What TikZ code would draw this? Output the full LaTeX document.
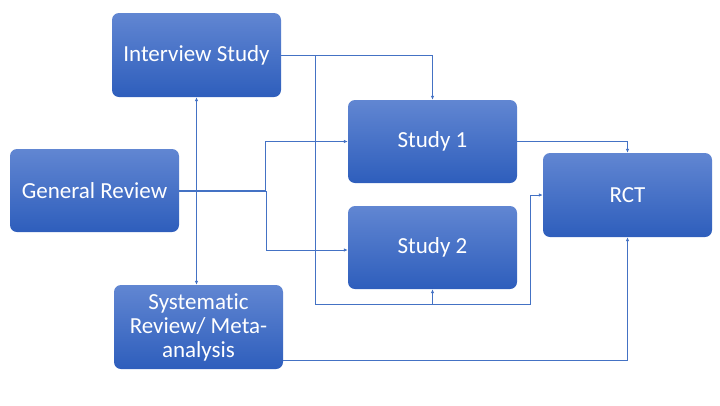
\documentclass[tikz,border=0pt]{standalone}
\usepackage{fontspec}
\setmainfont{Carlito}[Ligatures={NoCommon}]
\usetikzlibrary{arrows.meta,calc}
\definecolor{boxtop}{RGB}{97,134,210}
\definecolor{boxbot}{RGB}{46,94,188}
\definecolor{linkc}{RGB}{68,114,196}
\tikzset{
  box/.style={rectangle, rounded corners=7pt, shade, top color=boxtop, bottom color=boxbot,
    minimum width=169pt, minimum height=84pt, inner sep=0pt, text=white, align=center,
    font=\fontsize{23}{24}\selectfont},
  conn/.style={draw=linkc, line width=0.9pt, -{Latex[length=4pt,width=3.5pt]}}
}
\begin{document}
\begin{tikzpicture}[x=1pt,y=-1pt]
\useasboundingbox (0,0) rectangle (720,405);
\node[box] (interview) at (196.5,55) {Interview Study};
\node[box, minimum height=83pt] (study1) at (432.5,141.5) {Study 1};
\node[box, minimum height=83pt] (study2) at (432.5,247.5) {Study 2};
\node[box] (rct) at (627.5,195) {RCT};
\node[box, minimum height=83pt] (gr) at (94.5,190.5) {General Review};
\node[box] (sys) at (198.5,327) {Systematic\\Review/ Meta-\\analysis};
\coordinate (bend1) at (315,304);
\coordinate (bend2) at (530.7,304);
\coordinate (sysout) at ($(sys.south east)+(0,-8.5)$);
% from General Review
\draw[conn] (gr.east) -| (interview.south);
\draw[conn] (gr.east) -| (sys.north -| interview.south);
\draw[conn] (gr.east) -- ++(86.7,0) |- (study1.west);
\draw[conn] ($(gr.east)+(0,1)$) -- ++(87.7,0) |- ($(study2.west)+(0,2.5)$);
% from Interview Study
\draw[conn] (interview.east) -| (study1.north);
\draw[conn] (interview.east) -| (bend1) -| (study2.south);
\draw[conn] (interview.east) -| (bend1) -- (bend2) |- (rct.west);
% to RCT
\draw[conn] (study1.east) -| (rct.north);
\draw[conn] (sysout) -| (rct.south);
\end{tikzpicture}
\end{document}
